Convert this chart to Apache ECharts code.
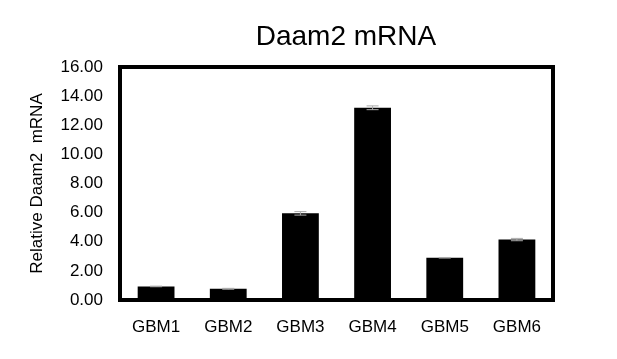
<!DOCTYPE html>
<html>
<head>
<meta charset="utf-8">
<script src="https://cdn.jsdelivr.net/npm/echarts@6/dist/echarts.min.js"></script>
<style>
  html, body { margin: 0; padding: 0; background: #fff; }
  #chart { width: 617px; height: 359px; }
</style>
</head>
<body>
<div id="chart"></div>
<script>
let categories = ['GBM1', 'GBM2', 'GBM3', 'GBM4', 'GBM5', 'GBM6'];
let values = [0.93, 0.77, 5.95, 13.2, 2.9, 4.15];
let errors = [0.02, 0.03, 0.12, 0.13, 0.02, 0.08];
let yTicks = [0, 2, 4, 6, 8, 10, 12, 14, 16];

let chart = echarts.init(document.getElementById('chart'));

let errData = values.map(function (v, i) {
    return [i, v - errors[i], v + errors[i]];
});

let option = {
    animation: false,
    textStyle: { fontFamily: 'Liberation Sans, Arial, sans-serif' },
    title: {
        text: 'Daam2 mRNA',
        left: 341,
        top: 18,
        textAlign: 'center',
        textStyle: { fontSize: 28, fontWeight: 'normal', color: '#000' }
    },
    grid: {
        left: 120, right: 64, top: 67, bottom: 59,
        show: true,
        borderColor: '#000',
        borderWidth: 4,
        backgroundColor: '#fff'
    },
    xAxis: {
        type: 'category',
        data: categories,
        axisLine: { show: false },
        axisTick: { show: false },
        axisLabel: { color: '#000', fontSize: 17, margin: 19 }
    },
    yAxis: {
        type: 'value',
        min: yTicks[0],
        max: yTicks[yTicks.length - 1],
        interval: 2,
        name: 'Relative Daam2  mRNA',
        nameLocation: 'middle',
        nameGap: 74,
        nameTextStyle: { color: '#000', fontSize: 17 },
        axisLine: { show: false },
        axisTick: { show: false },
        splitLine: { show: false },
        axisLabel: {
            color: '#000', fontSize: 17, margin: 17,
            formatter: function (v) { return v.toFixed(2); }
        }
    },
    series: [
        {
            type: 'bar',
            data: values,
            barWidth: '51%',
            itemStyle: { color: '#000' }
        },
        {
            type: 'custom',
            data: errData,
            z: 10,
            renderItem: function (params, api) {
                let x = api.coord([api.value(0), 0])[0];
                let lo = api.coord([api.value(0), api.value(1)])[1];
                let hi = api.coord([api.value(0), api.value(2)])[1];
                let w = 6;
                let style = { stroke: '#aaa', lineWidth: 1 };
                return {
                    type: 'group',
                    children: [
                        { type: 'line', shape: { x1: x, y1: lo, x2: x, y2: hi }, style: style },
                        { type: 'line', shape: { x1: x - w, y1: hi, x2: x + w, y2: hi }, style: style },
                        { type: 'line', shape: { x1: x - w, y1: lo, x2: x + w, y2: lo }, style: style }
                    ]
                };
            }
        }
    ]
};
chart.setOption(option);
</script>
</body>
</html>
